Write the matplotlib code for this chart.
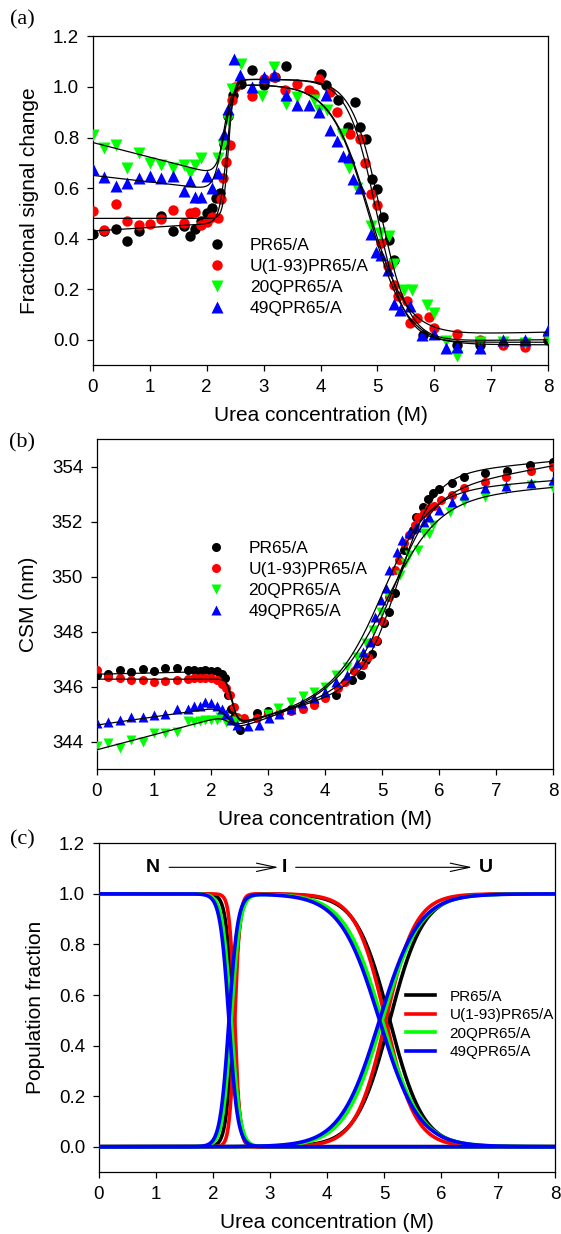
import numpy as np
import matplotlib
matplotlib.use("Agg")
import matplotlib.pyplot as plt

plt.rcParams['font.family'] = ['Liberation Sans', 'DejaVu Sans']

labels = ['PR65/A', 'U(1-93)PR65/A', '20QPR65/A', '49QPR65/A']
colors = ['black', 'red', '#00ff00', 'blue']
markers = ['o', 'o', 'v', '^']

# ---- panel (a): fractional signal change ----
xa_pr = [0, 0.2, 0.4, 0.6, 0.8, 1.2, 1.4, 1.6, 1.7, 1.8, 1.9, 2.0, 2.1, 2.16, 2.24, 2.3, 2.38, 2.46,
         2.6, 2.8, 3.0, 3.2, 3.4, 4.0, 4.1, 4.3, 4.48, 4.6, 4.7, 4.8, 4.9, 5.0, 5.1, 5.2, 5.3, 5.8,
         6.4, 6.8, 7.6, 8.0]
ya_pr = [0.42, 0.43, 0.44, 0.39, 0.43, 0.49, 0.43, 0.45, 0.41, 0.44, 0.47, 0.50, 0.52, 0.56, 0.58,
         0.775, 0.887, 0.967, 1.01, 1.066, 1.007, 1.04, 1.083, 1.05, 1.007, 0.947, 0.84, 0.94, 0.84,
         0.795, 0.634, 0.598, 0.486, 0.393, 0.316, 0.02, -0.02, -0.02, -0.01, 0.0]

xa_u = [0, 0.2, 0.4, 0.6, 0.8, 1.0, 1.2, 1.4, 1.6, 1.7, 1.8, 1.9, 2.0, 2.1, 2.2, 2.25, 2.28, 2.34,
        2.4, 2.45, 2.5, 2.79, 3.0, 3.19, 3.38, 3.59, 3.79, 3.88, 3.98, 4.17, 4.29, 4.52, 4.7, 4.79,
        4.89, 5.0, 5.07, 5.18, 5.3, 5.37, 5.52, 5.58, 5.7, 5.9, 6.0, 6.4, 6.8, 7.2, 7.6, 8.0]
ya_u = [0.51, 0.433, 0.536, 0.47, 0.453, 0.457, 0.477, 0.514, 0.46, 0.50, 0.507, 0.454, 0.467,
        0.486, 0.483, 0.556, 0.64, 0.705, 0.772, 0.95, 1.0, 0.963, 1.03, 1.04, 0.987, 1.013, 0.987,
        0.974, 1.03, 0.98, 0.90, 0.815, 0.795, 0.70, 0.576, 0.534, 0.384, 0.291, 0.218, 0.172,
        0.152, 0.066, 0.085, 0.088, 0.046, 0.022, 0.0, -0.02, -0.03, 0.02]

xa_20 = [0, 0.2, 0.4, 0.6, 0.8, 1.0, 1.2, 1.4, 1.6, 1.7, 1.8, 1.9, 2.2, 2.28, 2.37, 2.45, 2.61,
         2.98, 3.19, 3.39, 3.58, 3.88, 3.98, 4.11, 4.38, 4.5, 4.65, 4.89, 5.05, 5.2, 5.3, 5.46,
         5.61, 5.87, 6.0, 6.2, 6.4, 6.8, 7.2, 7.6, 8.0]
ya_20 = [0.81, 0.76, 0.77, 0.68, 0.74, 0.70, 0.69, 0.68, 0.69, 0.66, 0.69, 0.72, 0.72, 0.77, 0.87,
         0.99, 1.09, 0.963, 1.08, 0.934, 0.96, 0.947, 0.907, 0.907, 0.815, 0.678, 0.60, 0.45,
         0.423, 0.41, 0.30, 0.198, 0.198, 0.139, 0.105, -0.007, -0.063, -0.01, -0.01, -0.014, 0.006]

xa_49 = [0, 0.2, 0.4, 0.6, 0.8, 1.0, 1.2, 1.4, 1.6, 1.7, 1.8, 1.9, 2.0, 2.1, 2.2, 2.3, 2.38, 2.48,
         2.59, 2.8, 3.0, 3.19, 3.4, 3.58, 3.79, 3.98, 4.1, 4.17, 4.29, 4.4, 4.5, 4.58, 4.7, 4.89,
         4.98, 5.07, 5.18, 5.3, 5.4, 5.58, 5.79, 6.0, 6.2, 6.4, 6.8, 7.2, 7.6, 8.0]
ya_49 = [0.675, 0.645, 0.61, 0.62, 0.638, 0.646, 0.638, 0.646, 0.59, 0.629, 0.565, 0.565, 0.649,
         0.60, 0.66, 0.815, 0.914, 1.109, 1.046, 1.0, 1.04, 1.046, 0.967, 0.927, 0.927, 0.90,
         0.967, 0.83, 0.788, 0.728, 0.722, 0.636, 0.60, 0.417, 0.348, 0.335, 0.274, 0.141, 0.119,
         0.132, 0.02, 0.022, -0.034, -0.03, -0.034, 0.0, 0.0, 0.04]

# ---- panel (b): CSM (nm) ----
xb_pr = [0, 0.2, 0.4, 0.6, 0.8, 1.0, 1.2, 1.4, 1.6, 1.7, 1.8, 1.9, 2.0, 2.1, 2.2, 2.25, 2.3, 2.35,
         2.4, 2.5, 2.8, 3.0, 3.4, 3.8, 4.19, 4.47, 4.63, 4.72, 4.82, 4.91, 5.03, 5.13, 5.23, 5.39,
         5.54, 5.6, 5.72, 5.8, 5.89, 6.0, 6.22, 6.43, 6.8, 7.2, 7.6, 8.0]
yb_pr = [346.43, 346.46, 346.6, 346.52, 346.63, 346.58, 346.67, 346.69, 346.62, 346.6, 346.58,
         346.6, 346.58, 346.55, 346.45, 346.3, 345.7, 345.2, 344.9, 344.43, 345.03, 345.1, 345.2,
         345.4, 345.7, 346.24, 346.43, 346.97, 347.2, 347.67, 348.33, 348.73, 349.4, 350.97,
         351.7, 352.18, 352.55, 352.81, 353.03, 353.18, 353.42, 353.64, 353.78, 353.84, 354.05,
         354.18]

xb_u = [0, 0.2, 0.4, 0.6, 0.8, 1.0, 1.2, 1.4, 1.6, 1.7, 1.8, 1.9, 2.0, 2.1, 2.2, 2.27, 2.33, 2.4,
        2.46, 2.58, 2.8, 3.0, 3.2, 3.4, 3.62, 3.81, 4.0, 4.22, 4.35, 4.5, 4.66, 4.76, 4.9, 5.0,
        5.13, 5.23, 5.29, 5.39, 5.48, 5.58, 5.64, 5.73, 5.83, 5.92, 6.03, 6.22, 6.43, 6.8, 7.18,
        7.61, 8.0]
yb_u = [346.6, 346.36, 346.3, 346.25, 346.25, 346.18, 346.2, 346.24, 346.28, 346.3, 346.3, 346.3,
        346.3, 346.25, 346.1, 345.95, 345.7, 345.27, 344.9, 344.85, 344.86, 345.0, 345.05, 345.1,
        345.2, 345.33, 345.58, 345.94, 346.18, 346.55, 346.79, 347.09, 347.7, 348.4, 349.27,
        350.24, 350.6, 351.24, 351.52, 351.88, 352.16, 352.3, 352.49, 352.57, 352.79, 352.97,
        353.21, 353.45, 353.64, 353.84, 354.0]

xb_20 = [0, 0.2, 0.4, 0.6, 0.8, 1.0, 1.2, 1.4, 1.6, 1.7, 1.8, 1.9, 2.0, 2.1, 2.16, 2.27, 2.43, 3.0,
         3.18, 3.4, 3.62, 3.81, 4.0, 4.19, 4.38, 4.57, 4.72, 4.85, 4.98, 5.1, 5.32, 5.4, 5.48,
         5.64, 5.73, 5.83, 5.89, 6.2, 6.43, 6.8, 7.18, 7.61, 8.0]
yb_20 = [343.85, 343.94, 343.76, 344.06, 344.0, 344.3, 344.3, 344.36, 344.73, 344.7, 344.75,
         344.8, 344.8, 344.8, 344.9, 344.7, 344.73, 345.0, 345.21, 345.45, 345.64, 345.82, 346.0,
         346.43, 346.73, 347.09, 347.58, 348.06, 348.73, 349.33, 350.06, 350.49, 350.79, 350.97,
         351.58, 351.56, 351.88, 352.36, 352.73, 352.91, 353.18, 353.33, 353.24]

xb_49 = [0, 0.2, 0.4, 0.6, 0.8, 1.0, 1.2, 1.4, 1.6, 1.7, 1.8, 1.9, 2.0, 2.1, 2.2, 2.27, 2.35, 2.45,
         2.65, 2.85, 3.02, 3.2, 3.4, 3.6, 3.81, 4.0, 4.19, 4.38, 4.57, 4.66, 4.79, 4.88, 4.98,
         5.07, 5.13, 5.26, 5.35, 5.48, 5.6, 5.73, 5.83, 6.0, 6.22, 6.43, 6.8, 7.18, 7.61, 8.0]
yb_49 = [344.67, 344.7, 344.79, 344.91, 344.9, 344.97, 345.0, 345.18, 345.2, 345.3, 345.3,
         345.45, 345.4, 345.3, 345.2, 345.0, 344.8, 344.6, 344.55, 344.6, 344.85, 345.0, 345.2,
         345.4, 345.6, 345.8, 346.18, 346.43, 346.85, 347.27, 347.64, 348.55, 349.15, 349.6,
         350.24, 350.91, 351.33, 351.58, 351.82, 352.0, 352.18, 352.43, 352.73, 352.97, 353.21,
         353.3, 353.42, 353.52]

# ---- three-state fit parameters (N <-> I <-> U) ----
cm1 = [2.35, 2.38, 2.32, 2.28]       # N/I midpoints (M)
m1 = [16, 22, 13, 13]
cm2 = [5.10, 5.03, 4.97, 4.92]       # I/U midpoints (M), panel (c)
m2 = [3.4, 3.8, 3.0, 2.9]

# fitted baselines for (a)
a_n0 = [0.43, 0.48, 0.78, 0.65]
a_ns = [0.014, 0.0, -0.058, -0.026]
a_i = [1.03, 1.03, 1.01, 1.01]
a_u0 = [-0.02, -0.01, -0.01, -0.02]
a_us = [0.0025, 0.0, 0.005, 0.0]
cm2_a = [5.05, 4.98, 4.85, 4.85]
m2_a = [4.0, 4.0, 3.0, 3.0]

# fitted baselines for (b)
b_n0 = [346.45, 346.27, 343.7, 344.6]
b_ns = [0.05, 0.0, 0.55, 0.3]
b_i0 = [343.3, 343.3, 343.0, 343.1]
b_is = [0.55, 0.55, 0.6, 0.6]
b_u0 = [352.6, 351.0, 351.9, 352.3]
b_us = [0.2, 0.38, 0.17, 0.15]
cm2_b = [5.3, 5.2, 5.15, 5.05]
m2_b = [3.2, 2.8, 2.2, 2.5]


def three_state(x, c1, k1, c2, k2):
    e1 = np.exp(k1 * (x - c1))
    e2 = np.exp(k2 * (x - c2))
    z = 1 + e1 + e1 * e2
    return 1 / z, e1 / z, e1 * e2 / z


xa_all = [xa_pr, xa_u, xa_20, xa_49]
ya_all = [ya_pr, ya_u, ya_20, ya_49]
xb_all = [xb_pr, xb_u, xb_20, xb_49]
yb_all = [yb_pr, yb_u, yb_20, yb_49]
xf = np.linspace(0, 8, 800)

fig = plt.figure(figsize=(5.61, 12.34), dpi=100)
ax_a = fig.add_axes([93 / 561, 1 - 365 / 1234, 455 / 561, 328.6 / 1234])
ax_b = fig.add_axes([97 / 561, 1 - 769 / 1234, 456 / 561, 329.7 / 1234])
ax_c = fig.add_axes([99 / 561, 1 - 1172 / 1234, 456 / 561, 328.7 / 1234])

leg_kw = dict(loc='upper left', frameon=False, fontsize=12.5, borderpad=0, borderaxespad=0,
              handlelength=0.9, handletextpad=1.45, labelspacing=0.33, numpoints=1)

# (a)
for i in range(4):
    ms = 7.5 if markers[i] == 'o' else 8
    ax_a.plot(xa_all[i], ya_all[i], linestyle='none', marker=markers[i], ms=ms,
              color=colors[i], mec='none', label=labels[i], zorder=2 + i)
for i in range(4):
    fn, fi, fu = three_state(xf, cm1[i], m1[i], cm2_a[i], m2_a[i])
    ya_fit = (a_n0[i] + a_ns[i] * xf) * fn + a_i[i] * fi + (a_u0[i] + a_us[i] * xf) * fu
    ax_a.plot(xf, ya_fit, color='black', lw=0.9, zorder=10)
ax_a.set_ylim(-0.1, 1.2)
ax_a.set_yticks(np.arange(0, 1.21, 0.2))
ax_a.set_yticklabels(['0.0', '0.2', '0.4', '0.6', '0.8', '1.0', '1.2'])
ax_a.set_ylabel('Fractional signal change', fontsize=15, labelpad=10)
ax_a.legend(bbox_to_anchor=(0.255, 0.386), **leg_kw)

# (b)
for i in range(4):
    ms = 6.5 if markers[i] == 'o' else 7
    ax_b.plot(xb_all[i], yb_all[i], linestyle='none', marker=markers[i], ms=ms,
              color=colors[i], mec='none', label=labels[i], zorder=2 + i)
for i in range(4):
    fn, fi, fu = three_state(xf, cm1[i], m1[i], cm2_b[i], m2_b[i])
    yb_fit = ((b_n0[i] + b_ns[i] * xf) * fn + (b_i0[i] + b_is[i] * xf) * fi
              + (b_u0[i] + b_us[i] * xf) * fu)
    ax_b.plot(xf, yb_fit, color='black', lw=0.9, zorder=10)
ax_b.set_ylim(343, 355)
ax_b.set_yticks([344, 346, 348, 350, 352, 354])
ax_b.set_ylabel('CSM (nm)', fontsize=15, labelpad=10)
ax_b.legend(bbox_to_anchor=(0.243, 0.691), **leg_kw)

# (c)
for i in range(4):
    fn, fi, fu = three_state(xf, cm1[i], m1[i], cm2[i], m2[i])
    ax_c.plot(xf, fn, color=colors[i], lw=2.6, label=labels[i], zorder=2 + i)
    ax_c.plot(xf, fi, color=colors[i], lw=2.6, zorder=2 + i)
    ax_c.plot(xf, fu, color=colors[i], lw=2.6, zorder=2 + i)
ax_c.set_ylim(-0.1, 1.2)
ax_c.set_yticks(np.arange(0, 1.21, 0.2))
ax_c.set_yticklabels(['0.0', '0.2', '0.4', '0.6', '0.8', '1.0', '1.2'])
ax_c.set_ylabel('Population fraction', fontsize=15, labelpad=10)
ax_c.legend(loc='upper left', bbox_to_anchor=(0.673, 0.555), frameon=False, fontsize=11,
            borderpad=0, borderaxespad=0, handlelength=1.9, handletextpad=0.95,
            labelspacing=0.3)
ax_c.text(0.95, 1.105, 'N', fontsize=14, fontweight='bold', ha='center', va='center')
ax_c.text(3.25, 1.105, 'I', fontsize=14, fontweight='bold', ha='center', va='center')
ax_c.text(6.78, 1.105, 'U', fontsize=14, fontweight='bold', ha='center', va='center')
arrow_kw = dict(arrowstyle='->,head_length=1.4,head_width=0.3', lw=0.8, color='black',
                shrinkA=0, shrinkB=0)
ax_c.annotate('', xy=(3.15, 1.105), xytext=(1.23, 1.105), arrowprops=arrow_kw)
ax_c.annotate('', xy=(6.55, 1.105), xytext=(3.45, 1.105), arrowprops=arrow_kw)

for ax in (ax_a, ax_b, ax_c):
    ax.set_xlim(0, 8)
    ax.set_xticks(range(9))
    ax.set_xlabel('Urea concentration (M)', fontsize=15, labelpad=7)
    ax.tick_params(direction='out', length=4, width=0.9, labelsize=13.5, pad=6,
                   top=False, right=False)
    for sp in ax.spines.values():
        sp.set_linewidth(0.9)

for txt, y in (('(a)', 20), ('(b)', 443), ('(c)', 840)):
    fig.text(22 / 561, 1 - y / 1234, txt, fontsize=16, family='Liberation Serif',
             ha='center', va='center')

fig.savefig('out.png', dpi=100)
